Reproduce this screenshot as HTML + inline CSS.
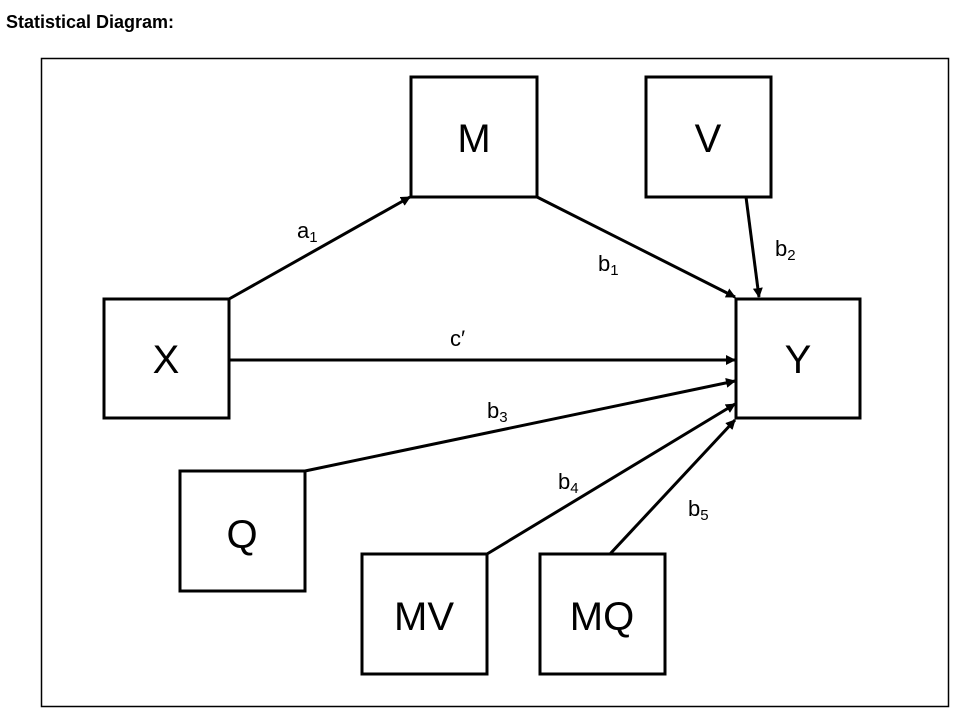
<!DOCTYPE html>
<html><head><meta charset="utf-8"><style>
html,body{margin:0;padding:0;background:#fff;width:964px;height:718px;overflow:hidden}
</style></head><body>
<svg width="964" height="718" xmlns="http://www.w3.org/2000/svg" font-family="Liberation Sans, sans-serif">
<defs><marker id="ah" markerWidth="10" markerHeight="10" refX="9" refY="5" orient="auto" markerUnits="userSpaceOnUse"><path d="M0,0 L10,5 L0,10 z" fill="#000"/></marker></defs>
<text x="6" y="28" font-size="18" font-weight="bold">Statistical Diagram:</text>
<rect x="41.5" y="58.5" width="907" height="648" fill="none" stroke="#000" stroke-width="1.5"/>
<g fill="none" stroke="#000" stroke-width="3">
<rect x="411" y="77" width="126" height="120"/>
<rect x="646" y="77" width="125" height="120"/>
<rect x="104" y="299" width="125" height="119"/>
<rect x="736" y="299" width="124" height="119"/>
<rect x="180" y="471" width="125" height="120"/>
<rect x="362" y="554" width="125" height="120"/>
<rect x="540" y="554" width="125" height="120"/>
</g>
<g stroke="#000" stroke-width="3" marker-end="url(#ah)">
<line x1="229" y1="299" x2="410" y2="197"/>
<line x1="537" y1="197" x2="735" y2="297"/>
<line x1="746" y1="197" x2="759" y2="297"/>
<line x1="229" y1="360" x2="735" y2="360"/>
<line x1="305" y1="471" x2="735" y2="381"/>
<line x1="487" y1="554" x2="735" y2="404"/>
<line x1="610" y1="554" x2="735" y2="420"/>
</g>
<g font-size="40" text-anchor="middle">
<text x="474" y="152">M</text>
<text x="708" y="152">V</text>
<text x="166" y="373">X</text>
<text x="798" y="373">Y</text>
<text x="242" y="548">Q</text>
<text x="424" y="630">MV</text>
<text x="602" y="630">MQ</text>
</g>
<g font-size="22">
<text x="297" y="238">a<tspan font-size="15" dy="4">1</tspan></text>
<text x="598" y="271">b<tspan font-size="15" dy="4">1</tspan></text>
<text x="775" y="256">b<tspan font-size="15" dy="4">2</tspan></text>
<text x="450" y="346">c′</text>
<text x="487" y="418">b<tspan font-size="15" dy="4">3</tspan></text>
<text x="558" y="489">b<tspan font-size="15" dy="4">4</tspan></text>
<text x="688" y="516">b<tspan font-size="15" dy="4">5</tspan></text>
</g>
</svg>
</body></html>
